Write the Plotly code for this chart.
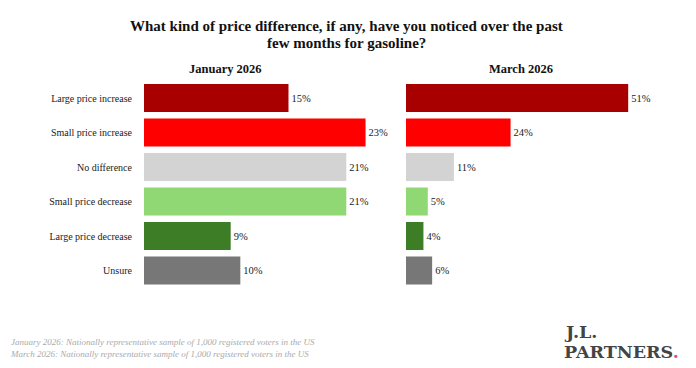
import plotly.graph_objects as go

categories = ["Large price increase", "Small price increase", "No difference",
              "Small price decrease", "Large price decrease", "Unsure"]
jan_values = [15, 23, 21, 21, 9, 10]
mar_values = [51, 24, 11, 5, 4, 6]
bar_colors = ["#a80000", "#ff0000", "#d3d3d3", "#90d873", "#3d7d25", "#777777"]
panel_titles = ["January 2026", "March 2026"]
title_lines = ["What kind of price difference, if any, have you noticed over the past",
               "few months for gasoline?"]
footer_text = ("January 2026: Nationally representative sample of 1,000 registered voters in the US<br>"
               "March 2026: Nationally representative sample of 1,000 registered voters in the US")

# page body has an 8px margin, so the figure is drawn 8px in from the top-left
OFF = 8
W, H = 696 - OFF, 368 - OFF
FONT = "Liberation Serif"
LOGO_FONT = "DejaVu Serif"

def px_x(x):
    return (x - OFF) / W

def px_y(y):
    return 1 - (y - OFF) / H

fig = go.Figure()
for i, (vals, ax) in enumerate([(jan_values, "x"), (mar_values, "x2")]):
    fig.add_trace(go.Bar(
        y=categories, x=vals, orientation="h",
        marker=dict(color=bar_colors, line=dict(width=0)),
        text=[f"{v}%" for v in vals], textposition="outside",
        textfont=dict(family=FONT, size=10.5, color="#222"),
        cliponaxis=False, xaxis=ax, yaxis="y" if i == 0 else "y2",
        hoverinfo="skip", showlegend=False,
    ))

ydom = [px_y(287.75), px_y(80.75)]
fig.update_layout(
    width=W, height=H, margin=dict(l=0, r=0, t=0, b=0),
    paper_bgcolor="white", plot_bgcolor="white",
    bargap=0.19,
    font=dict(family=FONT, color="#222"),
    xaxis=dict(domain=[px_x(144), px_x(380)], range=[0, 24.5], visible=False),
    xaxis2=dict(domain=[px_x(406), px_x(660)], range=[0, 58.3], visible=False),
    yaxis=dict(domain=ydom, anchor="x", autorange="reversed", showgrid=False,
               showline=False, zeroline=False, ticks="",
               tickfont=dict(family=FONT, size=10, color="#222"),
               ticklabelstandoff=11),
    yaxis2=dict(domain=ydom, anchor="x2", autorange="reversed", showticklabels=False,
                showgrid=False, showline=False, zeroline=False, ticks=""),
)

ann = []
for line, ly in zip(title_lines, [26, 43]):
    ann.append(dict(text="<b>" + line + "</b>", x=px_x(346), y=px_y(ly),
                    xref="paper", yref="paper", showarrow=False, xanchor="center", yanchor="middle",
                    font=dict(family=FONT, size=15, color="#111")))
for t, cx in zip(panel_titles, [225, 521]):
    ann.append(dict(text="<b>" + t + "</b>", x=px_x(cx), y=px_y(69), xref="paper", yref="paper",
                    showarrow=False, xanchor="center", yanchor="middle",
                    font=dict(family=FONT, size=12.5, color="#111")))
ann.append(dict(text="<i>" + footer_text + "</i>", x=px_x(8), y=px_y(348), xref="paper", yref="paper",
                showarrow=False, xanchor="left", yanchor="middle", align="left",
                font=dict(family=FONT, size=9, color="#aaaaaa")))
ann.append(dict(text="<b>J.L.</b>", x=px_x(562), y=px_y(332), xref="paper", yref="paper",
                showarrow=False, xanchor="left", yanchor="middle",
                font=dict(family=LOGO_FONT, size=17.5, color="#444")))
ann.append(dict(text="<b>PARTNERS<span style='color:#d94f7c'>.</span></b>", x=px_x(562), y=px_y(352),
                xref="paper", yref="paper", showarrow=False, xanchor="left", yanchor="middle",
                font=dict(family=LOGO_FONT, size=17.5, color="#444")))
fig.update_layout(annotations=ann)

fig.write_html("out.html")
